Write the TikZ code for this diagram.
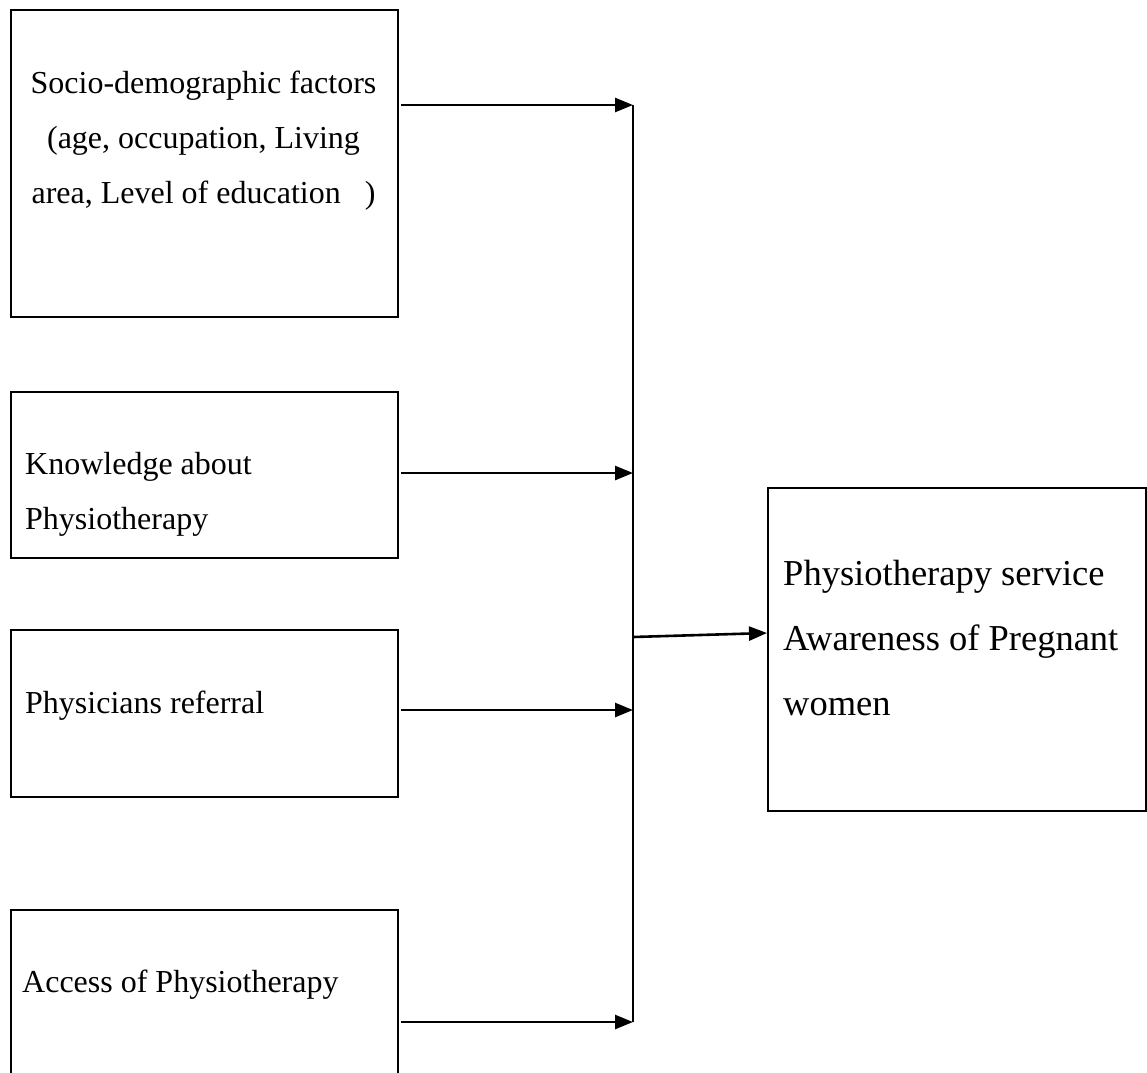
\documentclass[tikz,border=0pt]{standalone}
\usepackage{fontspec}
\setmainfont{Liberation Serif}
\usetikzlibrary{arrows.meta}
\begin{document}
\begin{tikzpicture}[x=1pt,y=-1pt,
  boxstyle/.style={draw=black, line width=2.2pt, rectangle, inner sep=0pt},
  lefttext/.style={inner sep=0pt, font=\fontsize{32}{55}\selectfont},
  righttext/.style={inner sep=0pt, font=\fontsize{36.5}{65}\selectfont},
  flow/.style={line width=2.6pt, -{Triangle[length=18pt,width=14pt]}},
  trunk/.style={line width=1.8pt}]
\useasboundingbox (0,0) rectangle (1147,1072);
% boxes
\node[boxstyle, minimum width=387pt, minimum height=307pt, anchor=north west] (b1) at (10,9) {};
\node[boxstyle, minimum width=387pt, minimum height=166pt, anchor=north west] (b2) at (10,391) {};
\node[boxstyle, minimum width=387pt, minimum height=167pt, anchor=north west] (b3) at (10,629) {};
\node[boxstyle, minimum width=387pt, minimum height=200pt, anchor=north west] (b4) at (10,909) {};
\node[boxstyle, minimum width=378pt, minimum height=323pt, anchor=north west] (out) at (767,487) {};
% texts (base anchor = baseline of the last line)
\node[lefttext, anchor=base, align=center] (t1) at (203.5,203) {Socio-demographic factors\\(age, occupation, Living\\area, Level of education\ \ \ )};
\node[lefttext, anchor=base west, align=left] (t2) at (25,529) {Knowledge about\\Physiotherapy};
\node[lefttext, anchor=base west] (t3) at (25,713) {Physicians referral};
\node[lefttext, anchor=base west] (t4) at (22,992) {Access of Physiotherapy};
\node[righttext, anchor=base west, align=left] (t5) at (783,715) {Physiotherapy service\\Awareness of Pregnant\\women};
% junction coordinates
\coordinate (j1) at (633,105);
\coordinate (j2) at (633,473);
\coordinate (j3) at (633,710);
\coordinate (j4) at (633,1022);
\coordinate (jm) at (633,637);
\coordinate (tip) at (767,633);
% connectors
\draw[trunk] (j1) -- (j4);
\draw[flow] ([xshift=2pt]b1.east |- j1) -- (j1);
\draw[flow] ([xshift=2pt]b2.east |- j2) -- (j2);
\draw[flow] ([xshift=2pt]b3.east |- j3) -- (j3);
\draw[flow] ([xshift=2pt]b4.east |- j4) -- (j4);
\draw[flow] (jm) -- (tip);
\end{tikzpicture}
\end{document}
